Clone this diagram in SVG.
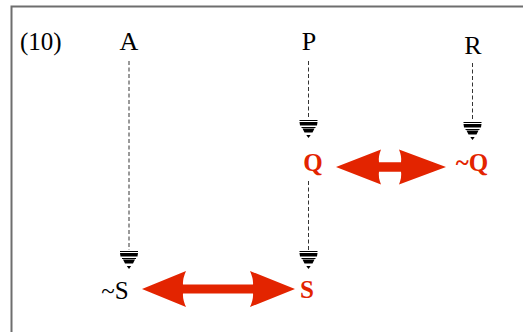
<svg xmlns="http://www.w3.org/2000/svg" width="523" height="332" viewBox="0 0 523 332">
<style>
.lbl{font-family:"Liberation Serif","Times New Roman",serif;font-size:26px;fill:#000}
.red{font-family:"Liberation Serif","Times New Roman",serif;font-size:25px;font-weight:bold;fill:#e32400}
.dash{stroke:#000;stroke-width:0.8;stroke-dasharray:4 2.5;fill:none}
.arr{fill:#e32400}
</style>
<defs>
<g id="gnd">
<line x1="-9" y1="0.5" x2="9" y2="0.5" stroke="#000" stroke-width="1"/>
<polygon points="-9,2 9,2 8.5,5.5 -8.5,5.5" fill="#000"/>
<line x1="-7" y1="7.5" x2="7" y2="7.5" stroke="#000" stroke-width="1"/>
<polygon points="-6,8.5 6,8.5 4,12.5 -4,12.5" fill="#000"/>
<polygon points="-2.2,15 2.2,15 0,18" fill="#000"/>
</g>
</defs>
<rect width="523" height="332" fill="#fff"/>
<path d="M11.5,332 V6.5 H523" fill="none" stroke="#6e6e6e" stroke-width="2"/>
<text class="lbl" x="20" y="50" style="font-size:25px">(10)</text>
<g id="nodeA">
<text class="lbl" x="129" y="50" text-anchor="middle">A</text>
</g>
<g id="nodeP">
<text class="lbl" x="309" y="50" text-anchor="middle">P</text>
</g>
<g id="nodeR">
<text class="lbl" x="473" y="54" text-anchor="middle">R</text>
</g>
<g id="nodeQ">
<text class="red" x="313" y="171" text-anchor="middle">Q</text>
</g>
<g id="nodeNotQ">
<text class="red" x="472" y="171" text-anchor="middle">~Q</text>
</g>
<g id="nodeS">
<text class="red" x="307" y="298" text-anchor="middle">S</text>
</g>
<g id="nodeNotS">
<text class="lbl" x="115" y="299" text-anchor="middle" style="font-size:25px">~S</text>
</g>
<g id="connectors">
<line class="dash" x1="129" y1="61" x2="129" y2="250"/>
<line class="dash" x1="308.5" y1="61" x2="308.5" y2="119"/>
<line class="dash" x1="308.5" y1="181" x2="308.5" y2="250"/>
<line class="dash" x1="472.5" y1="63" x2="472.5" y2="121"/>
<use href="#gnd" x="308.5" y="120"/>
<use href="#gnd" x="472.5" y="122"/>
<use href="#gnd" x="129" y="251"/>
<use href="#gnd" x="308.5" y="251"/>
<path class="arr" d="M142,289 L186,271 Q182.5,279 183,284.5 L253,284.5 Q253.5,279 250,271 L295,289 L250,307 Q253.5,299 253,293.5 L183,293.5 Q182.5,299 186,307 Z"/>
<path class="arr" d="M336,167 L381,149.5 Q378,157 379,162.2 L401,162.2 Q402,157 399,149.5 L446,167 L399,184.5 Q402,177 401,171.8 L379,171.8 Q378,177 381,184.5 Z"/>
</g>
</svg>
